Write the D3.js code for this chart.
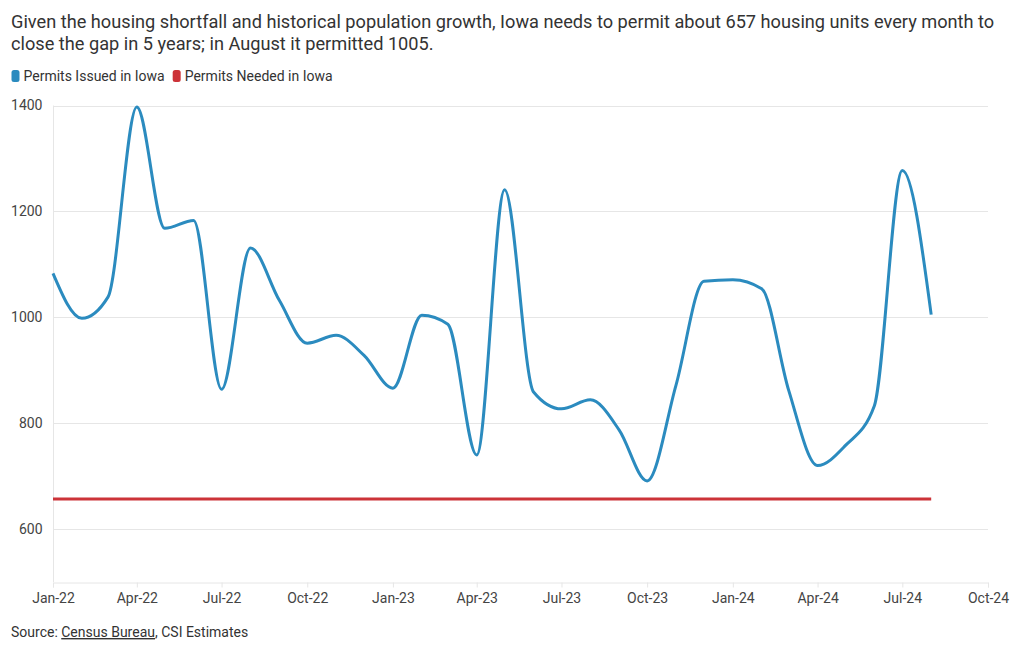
<!DOCTYPE html>
<html>
<head>
<meta charset="utf-8">
<script src="https://cdn.jsdelivr.net/npm/d3@7"></script>
<style>
  body { margin: 0; background: #fff; font-family: Roboto, "Noto Sans", sans-serif; }
  svg text { font-family: Roboto, "Noto Sans", sans-serif; }
</style>
</head>
<body>
<svg id="chart" width="1020" height="650"></svg>
<script>
const months = ["2022-01","2022-02","2022-03","2022-04","2022-05","2022-06","2022-07","2022-08","2022-09","2022-10","2022-11","2022-12",
  "2023-01","2023-02","2023-03","2023-04","2023-05","2023-06","2023-07","2023-08","2023-09","2023-10","2023-11","2023-12",
  "2024-01","2024-02","2024-03","2024-04","2024-05","2024-06","2024-07","2024-08"];
const permitsIssued = [1083, 998, 1038, 1397, 1168, 1183, 864, 1131, 1032, 951, 966, 928,
  866, 1004, 987, 740, 1241, 859, 827, 844, 787, 691, 872, 1068,
  1071, 1054, 862, 720, 758, 833, 1277, 1005];
const permitsNeeded = months.map(() => 657);
const seriesNames = ["Permits Issued in Iowa", "Permits Needed in Iowa"];
const seriesColors = ["#2b8bbf", "#cc3338"];
const yTicks = [600, 800, 1000, 1200, 1400];
const xDomain = ["2022-01", "2024-10"];
const titleLines = ["Given the housing shortfall and historical population growth, Iowa needs to permit about 657 housing units every month to",
  "close the gap in 5 years; in August it permitted 1005."];

const parse = d3.timeParse("%Y-%m");
const svg = d3.select("#chart");
const mLeft = 53, mRight = 988, mTop = 105.5, mBottom = 582;

const x = d3.scaleTime().domain(xDomain.map(parse)).range([mLeft, mRight]);
const y = d3.scaleLinear().domain([500, 1400]).range([mBottom, mTop]);

// title
svg.append("g").selectAll("text").data(titleLines).join("text")
  .attr("x", 11).attr("y", (d, i) => 28 + i * 22)
  .attr("font-size", 18.2).attr("fill", "#333").text(d => d);

// legend
const leg = svg.append("g");
let lx = 11;
seriesNames.forEach((n, i) => {
  leg.append("rect").attr("x", lx + 0.5).attr("y", 70).attr("width", 8).attr("height", 12)
    .attr("rx", 2.5).attr("fill", seriesColors[i]);
  const t = leg.append("text").attr("x", lx + 12.5).attr("y", 81).attr("font-size", 14)
    .attr("fill", "#333").text(n);
  lx += 12.5 + t.node().getComputedTextLength() + 7.5;
});

// gridlines
svg.append("g").selectAll("line").data(yTicks).join("line")
  .attr("x1", mLeft).attr("x2", mRight).attr("y1", d => Math.round(y(d)) + 0.5).attr("y2", d => Math.round(y(d)) + 0.5)
  .attr("stroke", "#e6e6e6").attr("stroke-width", 1);

// y axis
const ya = svg.append("g").attr("transform", `translate(${mLeft + 0.5},0)`)
  .call(d3.axisLeft(y).tickValues(yTicks).tickFormat(d3.format("d")).tickSize(0).tickPadding(11));
ya.select(".domain").attr("stroke", "#e6e6e6").attr("d", `M0,${mTop}V${mBottom}`);
ya.selectAll("text").attr("font-size", 14).attr("fill", "#444").attr("font-family", "Roboto");

// x axis
const xa = svg.append("g").attr("transform", `translate(0,${mBottom + 0.5})`)
  .call(d3.axisBottom(x).ticks(d3.timeMonth.every(3)).tickFormat(d3.timeFormat("%b-%y")).tickSize(5).tickPadding(6));
xa.select(".domain").attr("stroke", "#e6e6e6");
xa.selectAll(".tick line").attr("stroke", "#e6e6e6");
xa.selectAll("text").attr("font-size", 14).attr("fill", "#444").attr("font-family", "Roboto");

// lines
const line = d3.line().x((d, i) => x(parse(months[i]))).y(d => y(d)).curve(d3.curveMonotoneX);
svg.append("path").datum(permitsNeeded).attr("d", line).attr("fill", "none")
  .attr("stroke", seriesColors[1]).attr("stroke-width", 3);
svg.append("path").datum(permitsIssued).attr("d", line).attr("fill", "none")
  .attr("stroke", seriesColors[0]).attr("stroke-width", 3).attr("stroke-linejoin", "round");

// source
const src = svg.append("text").attr("x", 11).attr("y", 637).attr("font-size", 14).attr("fill", "#333");
src.append("tspan").text("Source: ");
src.append("tspan").attr("text-decoration", "underline").text("Census Bureau");
src.append("tspan").text(", CSI Estimates");
</script>
</body>
</html>
